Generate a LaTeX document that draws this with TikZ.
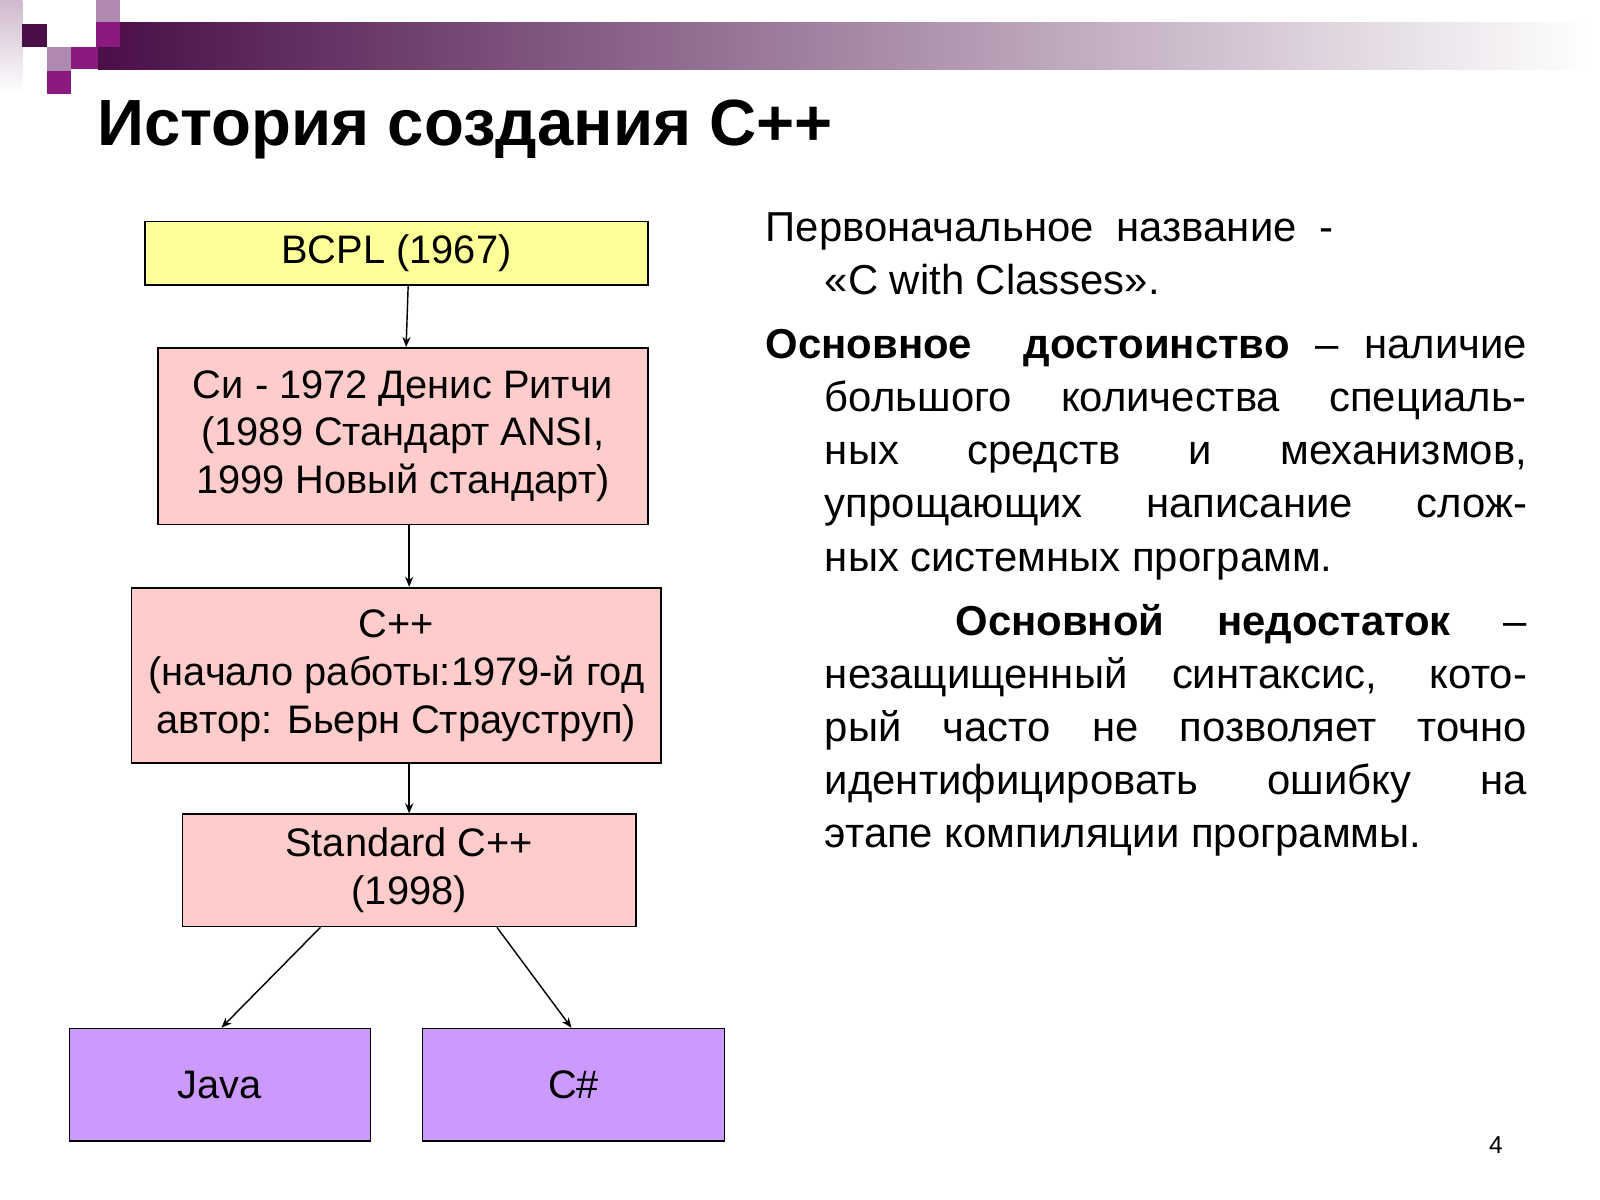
\documentclass[tikz,border=0pt]{standalone}
\usepackage{fontspec}
\setmainfont{Liberation Sans}
\usetikzlibrary{arrows.meta}
\definecolor{dp}{HTML}{4A0E48}
\definecolor{mp}{HTML}{8B1A7F}
\definecolor{lp}{HTML}{B08AAE}
\definecolor{yel}{HTML}{FFFF99}
\definecolor{pnk}{HTML}{FFCCCC}
\definecolor{lav}{HTML}{CC99FF}
\begin{document}
\begin{tikzpicture}[x=0.5pt,y=-0.5pt,
  box/.style={draw=black,line width=0.8pt,align=center,inner sep=0pt,font=\fontsize{19.5}{23.5}\selectfont},
  arr/.style={-{Stealth[length=5pt,width=4pt]},line width=0.7pt}]
\useasboundingbox[fill=white] (0,0) rectangle (1568,1176);
% header
\shade[left color=dp,right color=white] (96,22) rectangle (1560,68);
\shade[top color=lp!60,bottom color=white] (0,0) rectangle (22,92);
\fill[lp] (94,0) rectangle (118,22);
\fill[mp] (94,22) rectangle (118,46);
\fill[dp] (22,24) rectangle (46,46);
\fill[lp] (46,46) rectangle (70,70);
\fill[mp] (46,70) rectangle (70,92);
\fill[mp] (70,46) rectangle (96,68);
\node[anchor=base west,inner sep=0pt,font=\fontsize{32}{38}\selectfont\bfseries] (title) at (95,143) {История создания C++};
% boxes
\node[box,fill=yel,minimum width=246.5pt,minimum height=31pt] (bcpl) at (388.5,248) {BCPL (1967)};
\node[box,fill=pnk,minimum width=240pt,minimum height=86.5pt] (c) at (395,427.5) {Си - 1972 Денис Ритчи\\(1989 Стандарт ANSI,\\1999 Новый стандарт)};
\node[box,fill=pnk,minimum width=259.5pt,minimum height=86pt] (cpp) at (388.5,662) {C++\\(начало работы:1979-й год\\автор: Бьерн Страуструп)};
\node[box,fill=pnk,minimum width=222pt,minimum height=55pt] (std) at (401,853) {Standard C++\\(1998)};
\node[box,fill=lav,minimum width=147.5pt,minimum height=55pt] (java) at (215.5,1063) {Java};
\node[box,fill=lav,minimum width=148pt,minimum height=55pt] (cs) at (562,1063) {C\#};
\draw[arr] (bcpl.south -| 400,0) -- (c.north -| 398,0);
\draw[arr] (c.south -| 401,0) -- (cpp.north -| 401,0);
\draw[arr] (cpp.south -| 401,0) -- (std.north -| 401,0);
\draw[arr] (std.south -| 314,0) -- (java.north -| 217,0);
\draw[arr] (std.south -| 487,0) -- (cs.north -| 560,0);
% right text
\node[anchor=north west,inner sep=0pt,text width=373pt,align=justify,font=\fontsize{20.5}{26}\selectfont] (txt) at (750,208) {%
\setlength{\parskip}{5.5pt}\setlength{\parindent}{0pt}%
\hangindent=29pt\hangafter=1 Первоначальное\ \ название\ \ -\\«C with Classes».\par
\hangindent=29pt\hangafter=1 \textbf{Основное\ \ достоинство} – наличие\linebreak большого количества специаль-\linebreak ных средств и механизмов,\linebreak упрощающих написание слож-\linebreak ных системных программ.\par
\hangindent=29pt\hangafter=1 \hspace*{93pt}\textbf{Основной недостаток} –\linebreak незащищенный синтаксис, кото-\linebreak рый часто не позволяет точно\linebreak идентифицировать ошибку на\linebreak этапе компиляции программы.\par};
\node[font=\fontsize{12}{14}\selectfont,inner sep=0pt] (pg) at (1466,1122) {4};
\end{tikzpicture}
\end{document}
